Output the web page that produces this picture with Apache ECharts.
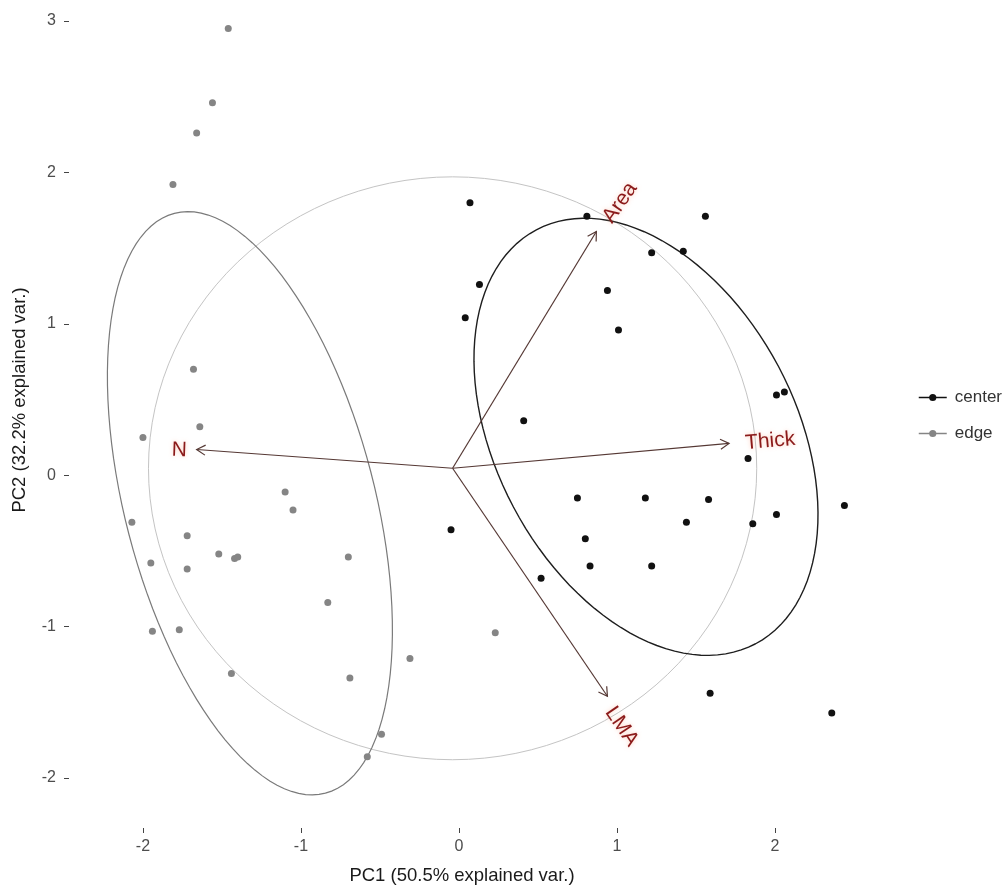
<!DOCTYPE html>
<html>
<head>
<meta charset="utf-8">
<title>PCA biplot</title>
<script src="https://cdn.jsdelivr.net/npm/echarts@6/dist/echarts.min.js"></script>
<style>
  html, body { margin: 0; padding: 0; background: #fff; }
  #chart { width: 1008px; height: 886px; }
</style>
</head>
<body>
<div id="chart"></div>
<script>
// PC scores
const centerX = [0.07, 0.13, 0.04, 0.81, 1.56, 1.22, 1.42, 0.94, 1.01, 2.01, 2.06, 0.41, 1.83, 2.44,
  0.75, 1.18, 1.58, 1.44, 1.86, 2.01, 0.80, 0.83, 1.22, 0.52, -0.05, 1.59, 2.36];
const centerY = [1.80, 1.26, 1.04, 1.71, 1.71, 1.47, 1.48, 1.22, 0.96, 0.53, 0.55, 0.36, 0.11, -0.20,
  -0.15, -0.15, -0.16, -0.31, -0.32, -0.26, -0.42, -0.60, -0.60, -0.68, -0.36, -1.44, -1.57];
const edgeX = [-1.46, -1.56, -1.66, -1.81, -1.68, -1.64, -2.00, -1.10, -1.05, -2.07, -1.72, -1.52, -1.42,
  -1.40, -0.70, -1.95, -1.72, -0.83, -1.94, -1.77, -0.31, 0.23, -1.44, -0.69, -0.49, -0.58];
const edgeY = [2.95, 2.46, 2.26, 1.92, 0.70, 0.32, 0.25, -0.11, -0.23, -0.31, -0.40, -0.52, -0.55,
  -0.54, -0.54, -0.58, -0.62, -0.84, -1.03, -1.02, -1.21, -1.04, -1.31, -1.34, -1.71, -1.86];

// loading arrows (tip positions) and their labels
const varNames = ['N', 'Thick', 'Area', 'LMA'];
const arrowTipX = [-1.66, 1.71, 0.87, 0.94];
const arrowTipY = [0.17, 0.21, 1.61, -1.46];
const labelX = [-1.77, 1.97, 1.02, 1.03];
const labelY = [0.165, 0.225, 1.80, -1.66];
const labelAngle = [-2, 5, 55, -56];
const origin = [-0.04, 0.046];
const circleRadius = 1.925;

// normal ellipses: centre, major semi-axis vector, minor semi-axis vector
const edgeEllipse = [-1.323, -0.185, 0.478, -1.915, 0.765, 0.208];
const centerEllipse = [1.184, 0.254, 0.694, -1.367, 0.839, 0.464];

const xTicks = [-2, -1, 0, 1, 2];
const yTicks = [-2, -1, 0, 1, 2, 3];

const toPairs = (xs, ys) => xs.map((x, i) => [x, ys[i]]);

const chart = echarts.init(document.getElementById('chart'));

// outline of an ellipse given as [cx, cy, ux, uy, vx, vy]
const ellipseRender = (color, width) => (params, api) => {
  const pts = [];
  for (let k = 0; k <= 120; k++) {
    const t = (k / 120) * Math.PI * 2;
    const c = Math.cos(t), s = Math.sin(t);
    pts.push(api.coord([
      api.value(0) + api.value(2) * c + api.value(4) * s,
      api.value(1) + api.value(3) * c + api.value(5) * s,
    ]));
  }
  return {
    type: 'polyline',
    shape: {points: pts},
    style: {stroke: color, lineWidth: width, fill: null},
  };
};

const arrowColor = '#553834';
const labelColor = '#8b1a1a';
const font = 'Liberation Sans, Arial, sans-serif';

const option = {
  backgroundColor: '#ffffff',
  animation: false,
  grid: {left: 69, right: 153, top: 0, bottom: 58, outerBoundsMode: 'none'},
  xAxis: {
    type: 'value',
    min: -2.468,
    max: 2.507,
    name: 'PC1 (50.5% explained var.)',
    nameLocation: 'middle',
    nameGap: 38,
    nameTextStyle: {fontFamily: font, fontSize: 18.5, color: '#1a1a1a'},
    axisLine: {show: false, onZero: false},
    splitLine: {show: false},
    axisTick: {show: true, length: 5, customValues: xTicks, lineStyle: {color: '#444', width: 1}},
    axisLabel: {customValues: xTicks, margin: 11, fontFamily: font, fontSize: 16, color: '#4d4d4d'},
  },
  yAxis: {
    type: 'value',
    min: -2.330,
    max: 3.139,
    name: 'PC2 (32.2% explained var.)',
    nameLocation: 'middle',
    nameGap: 40,
    nameTextStyle: {fontFamily: font, fontSize: 18.5, color: '#1a1a1a', padding: [0, 0, 0, 28]},
    axisLine: {show: false, onZero: false},
    splitLine: {show: false},
    axisTick: {show: true, length: 5, customValues: yTicks, lineStyle: {color: '#444', width: 1}},
    axisLabel: {customValues: yTicks, margin: 13, fontFamily: font, fontSize: 16, color: '#4d4d4d'},
  },
  legend: {
    orient: 'vertical',
    left: 913,
    top: 384,
    itemWidth: 28,
    itemHeight: 9,
    itemGap: 19,
    data: ['center', 'edge'],
    lineStyle: {opacity: 1, width: 1.5},
    textStyle: {fontFamily: font, fontSize: 17, color: '#333', padding: [0, 0, 0, 3]},
  },
  series: [
    {
      name: 'circle',
      type: 'custom',
      silent: true,
      data: [[origin[0], origin[1], circleRadius, 0, 0, circleRadius]],
      renderItem: ellipseRender('#c4c4c4', 1),
      z: 1,
    },
    {
      name: 'edge ellipse',
      type: 'custom',
      silent: true,
      data: [edgeEllipse],
      renderItem: ellipseRender('#7a7a7a', 1.2),
      z: 2,
    },
    {
      name: 'center ellipse',
      type: 'custom',
      silent: true,
      data: [centerEllipse],
      renderItem: ellipseRender('#1e1e1e', 1.4),
      z: 2,
    },
    {
      name: 'center',
      type: 'line',
      data: toPairs(centerX, centerY),
      symbol: 'circle',
      symbolSize: 7,
      showSymbol: true,
      itemStyle: {color: '#111111'},
      lineStyle: {color: '#111111', opacity: 0},
      silent: true,
      z: 3,
    },
    {
      name: 'edge',
      type: 'line',
      data: toPairs(edgeX, edgeY),
      symbol: 'circle',
      symbolSize: 7,
      showSymbol: true,
      itemStyle: {color: '#858585'},
      lineStyle: {color: '#858585', opacity: 0},
      silent: true,
      z: 3,
    },
    {
      name: 'arrows',
      type: 'custom',
      silent: true,
      data: toPairs(arrowTipX, arrowTipY),
      renderItem: (params, api) => {
        const o = api.coord(origin);
        const t = api.coord([api.value(0), api.value(1)]);
        const ang = Math.atan2(t[1] - o[1], t[0] - o[0]);
        const h = 10, spread = Math.PI / 6;
        const p1 = [t[0] - h * Math.cos(ang - spread), t[1] - h * Math.sin(ang - spread)];
        const p2 = [t[0] - h * Math.cos(ang + spread), t[1] - h * Math.sin(ang + spread)];
        return {
          type: 'group',
          children: [
            {type: 'line', shape: {x1: o[0], y1: o[1], x2: t[0], y2: t[1]}, style: {stroke: arrowColor, lineWidth: 1.2}},
            {type: 'polyline', shape: {points: [p1, t, p2]}, style: {stroke: arrowColor, lineWidth: 1.2, fill: null}},
          ],
        };
      },
      z: 4,
    },
    {
      name: 'labels',
      type: 'custom',
      silent: true,
      data: toPairs(labelX, labelY),
      renderItem: (params, api) => {
        const p = api.coord([api.value(0), api.value(1)]);
        return {
          type: 'text',
          x: p[0],
          y: p[1],
          rotation: labelAngle[params.dataIndex] * Math.PI / 180,
          style: {
            text: varNames[params.dataIndex],
            align: 'center',
            verticalAlign: 'middle',
            fontFamily: font,
            fontSize: 21,
            fill: labelColor,
            textShadowColor: 'rgba(255,170,140,0.6)',
            textShadowBlur: 4,
          },
        };
      },
      z: 5,
    },
  ],
};

chart.setOption(option);
</script>
</body>
</html>
